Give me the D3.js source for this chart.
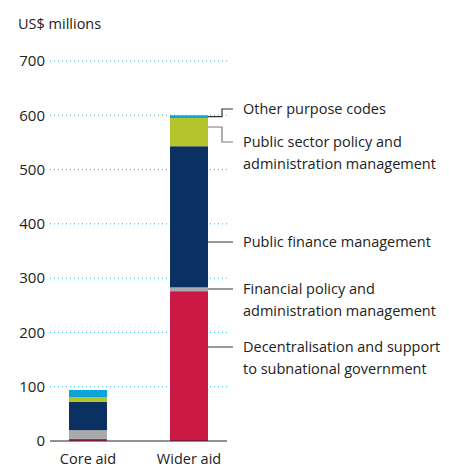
<!DOCTYPE html>
<html>
<head>
<meta charset="utf-8">
<script src="https://cdn.jsdelivr.net/npm/d3@7"></script>
<style>
  body { margin: 0; background: #fff; }
  text { font-family: "Open Sans", "Noto Sans", sans-serif; fill: #222; }
</style>
</head>
<body>
<div id="chart"></div>
<script>
// data
var categories = ["Core aid", "Wider aid"];
var seriesNames = [
  "Decentralisation and support to subnational government",
  "Financial policy and administration management",
  "Public finance management",
  "Public sector policy and administration management",
  "Other purpose codes"
];
var decentralisation = [4, 276];
var financialPolicy = [16, 7];
var publicFinance = [52, 260];
var publicSector = [9, 52];
var otherCodes = [13, 5];
var yTicks = [0, 100, 200, 300, 400, 500, 600, 700];

var colors = ["#cc1844", "#a7a9ac", "#0b3162", "#b6c42b", "#0ba5d9"];

// label text, split in lines
var labelLines = [
  ["Decentralisation and support", "to subnational government"],
  ["Financial policy and", "administration management"],
  ["Public finance management"],
  ["Public sector policy and", "administration management"],
  ["Other purpose codes"]
];

var svgWidth = 449, svgHeight = 471;
var svg = d3.select("#chart").append("svg")
  .attr("width", svgWidth)
  .attr("height", svgHeight);

var rows = categories.map(function(c, i) {
  return {
    cat: c,
    s0: decentralisation[i],
    s1: financialPolicy[i],
    s2: publicFinance[i],
    s3: publicSector[i],
    s4: otherCodes[i]
  };
});
var keys = ["s0", "s1", "s2", "s3", "s4"];
var stacked = d3.stack().keys(keys)(rows);

var y = d3.scaleLinear().domain([0, 700]).range([441, 61]);
var x = d3.scaleBand().domain(categories).range([50, 227])
  .paddingInner(0.624).paddingOuter(0.188);

var fs = "14.5px";

// y title
svg.append("text")
  .attr("x", 18).attr("y", 24)
  .attr("dy", "0.35em")
  .style("font-size", fs)
  .text("US$ millions");

// gridlines
svg.append("g").selectAll("line")
  .data(yTicks.filter(function(d) { return d > 0; }))
  .enter().append("line")
  .attr("x1", 50).attr("x2", 227)
  .attr("y1", function(d) { return y(d); })
  .attr("y2", function(d) { return y(d); })
  .attr("stroke", "#29b3e3")
  .attr("stroke-width", 1)
  .attr("stroke-dasharray", "1,3");

// y tick labels
var yAxis = svg.append("g")
  .attr("transform", "translate(50,0)")
  .call(d3.axisLeft(y).tickValues(yTicks).tickSize(0).tickPadding(5));
yAxis.select(".domain").remove();
yAxis.selectAll("text")
  .style("font-size", "15px")
  .style("font-family", "'Open Sans', 'Noto Sans', sans-serif")
  .attr("fill", "#222");

// bars
svg.append("g").selectAll("g")
  .data(stacked)
  .enter().append("g")
  .attr("fill", function(d, i) { return colors[i]; })
  .selectAll("rect")
  .data(function(d) { return d; })
  .enter().append("rect")
  .attr("x", function(d) { return x(d.data.cat); })
  .attr("width", x.bandwidth())
  .attr("y", function(d) { return y(d[1]); })
  .attr("height", function(d) { return y(d[0]) - y(d[1]); });

// baseline
svg.append("line")
  .attr("x1", 50).attr("x2", 227)
  .attr("y1", y(0)).attr("y2", y(0))
  .attr("stroke", "#222").attr("stroke-width", 1.2);

// x labels
var xAxis = svg.append("g")
  .attr("transform", "translate(0," + y(0) + ")")
  .call(d3.axisBottom(x).tickSize(0).tickPadding(13));
xAxis.select(".domain").remove();
xAxis.selectAll("text")
  .style("font-size", fs)
  .style("font-family", "'Open Sans', 'Noto Sans', sans-serif")
  .attr("fill", "#222");

// labels for wider aid
var barRight = x("Wider aid") + x.bandwidth();
var lineEnd = 233, textX = 243;
var labelY = [347, 289, 242, 142, 109];
var elbow = [false, false, false, true, true];
var lineColors = ["#555", "#555", "#555", "#777", "#333"];

stacked.forEach(function(layer, i) {
  var seg = layer[1];
  var ly = labelY[i];
  var path;
  if (elbow[i]) {
    var sy = (y(seg[0]) + y(seg[1])) / 2;
    if (i === 3) sy = y(seg[1]) + 9;
    path = "M" + barRight + "," + sy + "H" + 222 + "V" + ly + "H" + lineEnd;
  } else {
    path = "M" + barRight + "," + ly + "H" + lineEnd;
  }
  svg.append("path")
    .attr("d", path)
    .attr("fill", "none")
    .attr("stroke", lineColors[i])
    .attr("stroke-width", 1.2);

  var t = svg.append("text")
    .attr("x", textX).attr("y", ly)
    .style("font-size", fs);
  labelLines[i].forEach(function(l, j) {
    t.append("tspan")
      .attr("x", textX)
      .attr("dy", j === 0 ? "0.35em" : "22px")
      .text(l);
  });
});
</script>
</body>
</html>
